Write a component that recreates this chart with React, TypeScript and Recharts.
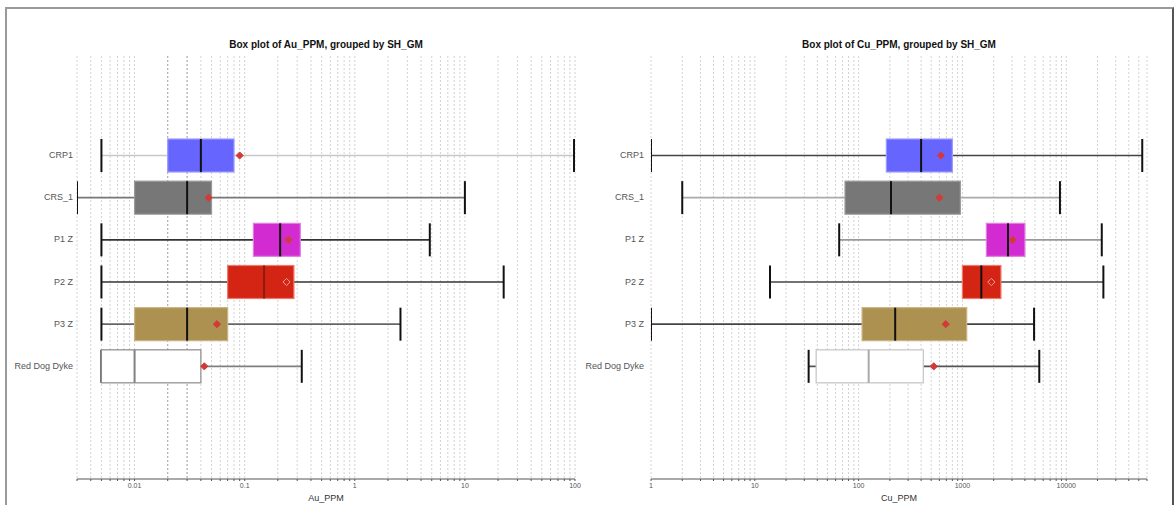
import { ComposedChart, Bar, XAxis, YAxis, CartesianGrid } from "recharts";

const groups = ["CRP1", "CRS_1", "P1 Z", "P2 Z", "P3 Z", "Red Dog Dyke"];

// Au_PPM
const auMin = [0.005, 0.003, 0.005, 0.005, 0.005, 0.005];
const auQ1 = [0.02, 0.01, 0.12, 0.07, 0.01, 0.005];
const auMedian = [0.04, 0.03, 0.21, 0.15, 0.03, 0.01];
const auQ3 = [0.08, 0.05, 0.32, 0.28, 0.07, 0.04];
const auMax = [98, 10, 4.8, 22.5, 2.6, 0.33];
const auMean = [0.09, 0.047, 0.25, 0.24, 0.056, 0.043];

// Cu_PPM
const cuMin = [1, 2, 65, 14, 1, 33];
const cuQ1 = [185, 74, 1700, 1000, 108, 39];
const cuMedian = [400, 205, 2750, 1520, 225, 125];
const cuQ3 = [800, 955, 4000, 2350, 1100, 420];
const cuMax = [54000, 8700, 22000, 22800, 4900, 5500];
const cuMean = [620, 600, 3050, 1900, 690, 530];

const auLabels = [0.01, 0.1, 1, 10, 100];
const cuLabels = [1, 10, 100, 1000, 10000];

// 1..9 x 10^k ticks between lo and hi
function logTicks(lo: number, hi: number) {
  const out: number[] = [];
  for (let e = Math.floor(Math.log10(lo)); e <= Math.ceil(Math.log10(hi)); e++) {
    for (let m = 1; m <= 9; m++) {
      const v = +(m * Math.pow(10, e)).toPrecision(6);
      if (v >= lo - 1e-12 && v <= hi + 1e-9) out.push(v);
    }
  }
  return out;
}

function makeRows(min: number[], q1: number[], med: number[], q3: number[], max: number[], mean: number[]) {
  return groups.map((name, i) => ({
    name,
    whisker: [min[i], max[i]],
    box: [q1[i], q3[i]],
    median: [med[i], med[i]],
    mean: [mean[i], mean[i]],
  }));
}

const boxFill: Record<string, string> = {
  CRP1: "#6666ff", CRS_1: "#777777", "P1 Z": "#d22bd2", "P2 Z": "#d42414", "P3 Z": "#ad9151", "Red Dog Dyke": "#ffffff",
};

const panels = [
  {
    title: "Box plot of Au_PPM, grouped by SH_GM",
    axisLabel: "Au_PPM",
    rows: makeRows(auMin, auQ1, auMedian, auQ3, auMax, auMean),
    domain: [0.003, 100],
    ticks: logTicks(0.003, 100),
    labels: auLabels,
    left: 0, width: 590, yWidth: 77, tickGap: 2, marginRight: 15,
    whisker: { CRP1: "#c8c8c8", CRS_1: "#777", "P1 Z": "#333", "P2 Z": "#333", "P3 Z": "#666", "Red Dog Dyke": "#808080" } as Record<string, string>,
    boxStroke: { CRP1: "#9c9cff", CRS_1: "#9a9a9a", "P1 Z": "#e07ee0", "P2 Z": "#ef7a6a", "P3 Z": "#c9b283", "Red Dog Dyke": "#8a8a8a" } as Record<string, string>,
    median: { CRP1: "#111", CRS_1: "#111", "P1 Z": "#111", "P2 Z": "#8e1a10", "P3 Z": "#111", "Red Dog Dyke": "#808080" } as Record<string, string>,
    darkGrid: [0.02, 0.03],
  },
  {
    title: "Box plot of Cu_PPM, grouped by SH_GM",
    axisLabel: "Cu_PPM",
    rows: makeRows(cuMin, cuQ1, cuMedian, cuQ3, cuMax, cuMean),
    domain: [1, 60000],
    ticks: logTicks(1, 60000),
    labels: cuLabels,
    left: 578, width: 598, yWidth: 73, tickGap: 5, marginRight: 29,
    whisker: { CRP1: "#444", CRS_1: "#aaa", "P1 Z": "#999", "P2 Z": "#444", "P3 Z": "#444", "Red Dog Dyke": "#555" } as Record<string, string>,
    boxStroke: { CRP1: "#9c9cff", CRS_1: "#9a9a9a", "P1 Z": "#e07ee0", "P2 Z": "#ef7a6a", "P3 Z": "#c9b283", "Red Dog Dyke": "#c4c4c4" } as Record<string, string>,
    median: { CRP1: "#111", CRS_1: "#111", "P1 Z": "#111", "P2 Z": "#111", "P3 Z": "#111", "Red Dog Dyke": "#aaa" } as Record<string, string>,
    darkGrid: [] as number[],
  },
];

type Panel = (typeof panels)[number];

function CategoryTick(props: any) {
  const { x, y, payload } = props;
  return (
    <text x={x} y={y} textAnchor="end" dominantBaseline="central" fontSize={9} fill="#555">
      {payload.value}
    </text>
  );
}

function BoxPanel({ p }: { p: Panel }) {
  const whiskerShape = (props: any) => {
    const { x, y, width, height, payload } = props;
    const cy = y + height / 2;
    return (
      <g>
        <line x1={x} x2={x + width} y1={cy} y2={cy} stroke={p.whisker[payload.name]} strokeWidth={1.6} />
        <line x1={x} x2={x} y1={y} y2={y + height} stroke="#111" strokeWidth={2} />
        <line x1={x + width} x2={x + width} y1={y} y2={y + height} stroke="#111" strokeWidth={2} />
      </g>
    );
  };
  const boxShape = (props: any) => {
    const { x, y, width, height, payload } = props;
    return (
      <rect x={x} y={y} width={width} height={height} fill={boxFill[payload.name]}
        stroke={p.boxStroke[payload.name]} strokeWidth={1.2} />
    );
  };
  const medianShape = (props: any) => {
    const { x, y, height, payload } = props;
    return <line x1={x} x2={x} y1={y} y2={y + height} stroke={p.median[payload.name]} strokeWidth={2} />;
  };
  const meanShape = (props: any) => {
    const { x, y, height, payload } = props;
    const cy = y + height / 2;
    const r = 3.6;
    const hollow = payload.name === "P2 Z";
    return (
      <polygon points={`${x},${cy - r} ${x + r},${cy} ${x},${cy + r} ${x - r},${cy}`}
        fill={hollow ? "#d42414" : "#d23a3a"} stroke={hollow ? "#f2a0a0" : "#d23a3a"} strokeWidth={1} />
    );
  };

  const cx = p.left + p.yWidth + (p.width - p.yWidth - p.marginRight) / 2;

  return (
    <>
      <div style={{ position: "absolute", left: cx - 150, top: 39, width: 300, textAlign: "center", fontSize: 10, fontWeight: "bold", color: "#111" }}>
        {p.title}
      </div>
      <div style={{ position: "absolute", left: p.left, top: 0 }}>
        <ComposedChart width={p.width} height={505} data={p.rows} layout="vertical"
          margin={{ top: 56, right: p.marginRight, bottom: 4, left: 0 }} barGap={-33}>
          <CartesianGrid horizontal={false} stroke="#d2d2d2" strokeDasharray="2 2" />
          {p.darkGrid.length > 0 && (
            <CartesianGrid horizontal={false} verticalValues={p.darkGrid} stroke="#ababab" strokeDasharray="2 2" />
          )}
          <XAxis type="number" scale="log" domain={p.domain} allowDataOverflow ticks={p.ticks} interval={0}
            tickFormatter={(v: number) => (p.labels.some(l => Math.abs(l - v) / l < 1e-6) ? String(v) : "")}
            tick={{ fontSize: 7, fill: "#555" }} tickSize={2} tickMargin={2} height={22}
            axisLine={{ stroke: "#555" }} tickLine={{ stroke: "#555" }}
            label={{ value: p.axisLabel, position: "insideBottom", offset: 0, style: { fontSize: 9, fill: "#333" } }} />
          <YAxis type="category" dataKey="name" width={p.yWidth} axisLine={false} tickLine={false}
            tickSize={2} tickMargin={p.tickGap} interval={0} padding={{ top: 78, bottom: 92 }}
            tick={<CategoryTick />} />
          <Bar dataKey="whisker" barSize={33} shape={whiskerShape} isAnimationActive={false} />
          <Bar dataKey="box" barSize={33} shape={boxShape} isAnimationActive={false} />
          <Bar dataKey="median" barSize={33} shape={medianShape} isAnimationActive={false} />
          <Bar dataKey="mean" barSize={33} shape={meanShape} isAnimationActive={false} />
        </ComposedChart>
      </div>
    </>
  );
}

export default function App() {
  return (
    <div style={{ position: "absolute", left: 0, top: 0, width: 1176, height: 505, background: "#fff", overflow: "hidden", fontFamily: "'Liberation Sans', Arial, sans-serif" }}>
      <div style={{ position: "absolute", left: 5, top: 7, width: 1169, height: 510, boxSizing: "border-box", borderLeft: "2px solid #9a9a9a", borderTop: "2px solid #9a9a9a", borderRight: "2px solid #555" }} />
      {panels.map(p => (
        <BoxPanel key={p.axisLabel} p={p} />
      ))}
    </div>
  );
}
